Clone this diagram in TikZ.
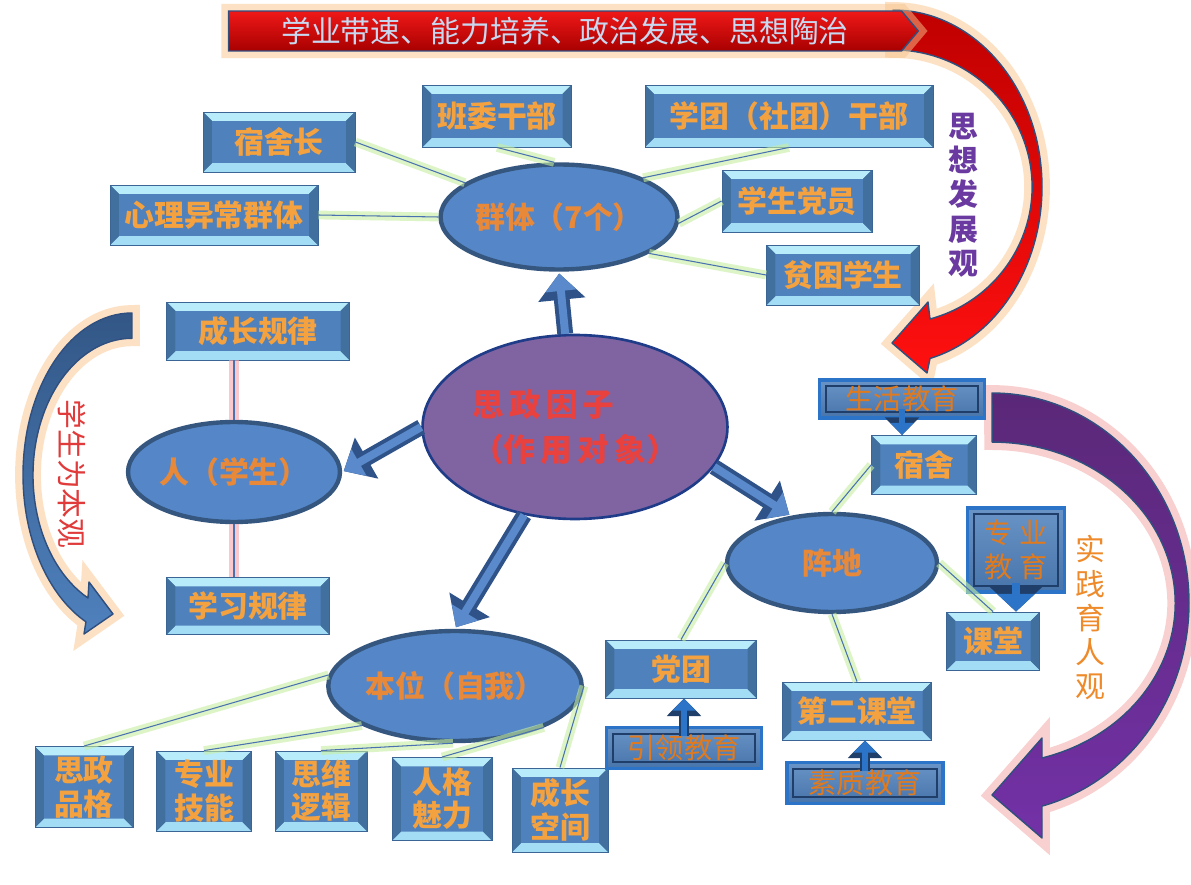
\documentclass[tikz,border=0pt]{standalone}
\usepackage{fontspec}
\setmainfont{Noto Sans CJK SC}
\usepackage{tikz}
\usetikzlibrary{shapes.geometric,shapes.symbols,arrows.meta}

\definecolor{boxblue}{HTML}{4F81BD}
\definecolor{boxedge}{HTML}{3A6595}
\definecolor{bevtop}{HTML}{B9ECFA}
\definecolor{bevbot}{HTML}{A3DDF5}
\definecolor{bevside}{HTML}{41709F}
\definecolor{textorange}{HTML}{F4A13F}
\definecolor{ellblue}{HTML}{5587C8}
\definecolor{ellrim}{HTML}{34567F}
\definecolor{ellorange}{HTML}{E8893A}
\definecolor{factorpurple}{HTML}{8064A2}
\definecolor{factoredge}{HTML}{1F3C88}
\definecolor{factorred}{HTML}{E8413E}
\definecolor{eduedge}{HTML}{2C74C8}
\definecolor{edudark}{HTML}{1F3F6A}
\definecolor{edutext}{HTML}{E07A1E}
\definecolor{lineblue}{HTML}{4A72B0}
\definecolor{glowgreen}{HTML}{C6EEA0}
\definecolor{glowpink}{HTML}{F6A6AE}
\definecolor{arrowfill}{HTML}{5A8ACB}
\definecolor{arrowedge}{HTML}{2F5388}
\definecolor{bannertop}{HTML}{F01818}
\definecolor{bannerbot}{HTML}{A80000}
\definecolor{bannertext}{HTML}{C8D8F0}
\definecolor{glowor}{HTML}{FAC58C}
\definecolor{glowrose}{HTML}{F4AAAA}
\definecolor{curveedge}{HTML}{2F4F7F}
\definecolor{redtop}{HTML}{C00000}
\definecolor{redbot}{HTML}{FF1010}
\definecolor{purpletop}{HTML}{5A2878}
\definecolor{purplebot}{HTML}{7331A6}
\definecolor{leftblue}{HTML}{3F6DA8}
\definecolor{viewpurple}{HTML}{6A3AA0}
\definecolor{viewred}{HTML}{E03A3A}
\definecolor{vieworange}{HTML}{EE8A2A}

\tikzset{
  bevelbox/.style={rectangle, draw=boxedge, line width=0.5pt, fill=boxblue, text=textorange,
    inner sep=0pt, align=center, font=\fontsize{17}{19}\selectfont\bfseries,
    path picture={
      \path (path picture bounding box.north west) coordinate (pnw)
            (path picture bounding box.north east) coordinate (pne)
            (path picture bounding box.south west) coordinate (psw)
            (path picture bounding box.south east) coordinate (pse);
      \fill[bevtop] (pnw) -- (pne) -- ([shift={(-5pt,-5pt)}]pne) -- ([shift={(5pt,-5pt)}]pnw) -- cycle;
      \fill[bevbot] (psw) -- (pse) -- ([shift={(-5pt,5pt)}]pse) -- ([shift={(5pt,5pt)}]psw) -- cycle;
      \fill[bevside] (pnw) -- ([shift={(5pt,-5pt)}]pnw) -- ([shift={(5pt,5pt)}]psw) -- (psw) -- cycle;
      \fill[bevside] (pne) -- ([shift={(-5pt,-5pt)}]pne) -- ([shift={(-5pt,5pt)}]pse) -- (pse) -- cycle;
    }},
  edubox/.style={rectangle, draw=eduedge, line width=2pt, top color=boxblue!85!white, bottom color=boxblue!90!black,
    text=edutext, inner sep=0pt, align=center, font=\fontsize{16}{19}\selectfont,
    path picture={
      \path (path picture bounding box.north west) coordinate (pnw)
            (path picture bounding box.south east) coordinate (pse);
      \draw[edudark, line width=1.2pt] ([shift={(3.5pt,-3.5pt)}]pnw) rectangle ([shift={(-3.5pt,3.5pt)}]pse);
    }},
  ellnode/.style={ellipse, draw=ellrim, line width=2.5pt, fill=ellblue, text=ellorange,
    inner sep=0pt, font=\fontsize{17}{20}\selectfont\bfseries},
  factor/.style={ellipse, draw=factoredge, line width=1.5pt, fill=factorpurple, text=factorred,
    inner sep=0pt, align=left, font=\fontsize{18}{26}\selectfont\bfseries},
  banner/.style={signal, signal to=east, signal pointer angle=100, draw=curveedge, line width=0.8pt,
    top color=bannertop, bottom color=bannerbot, minimum width=13.8cm, minimum height=0.8cm,
    inner sep=0pt, text=bannertext, font=\fontsize{17}{20}\selectfont,
    preaction={draw=glowor, line width=8pt, opacity=0.5}},
  curvearrow/.style={draw=curveedge, line width=0.8pt, line join=round},
  glowline/.style={draw=lineblue, line width=0.6pt, preaction={draw=glowgreen, line width=5pt, opacity=0.6}},
  pinkline/.style={draw=lineblue, line width=0.8pt, preaction={draw=glowpink, line width=6pt, opacity=0.6}},
  bigarrow/.style={draw=arrowedge, line width=9pt, -{Triangle[width=26pt,length=15pt]}, shorten >=1pt,
    postaction={draw=arrowfill, line width=4.5pt, -{Triangle[width=17pt,length=10pt]}}},
  eduarrow/.style={draw=edudark, line width=6pt, -{Triangle[width=19pt,length=10pt]}, shorten <=-6pt,
    postaction={draw=eduedge, line width=3pt, -{Triangle[width=13pt,length=7pt]}}},
  bigedu/.style={draw=edudark, line width=9pt, -{Triangle[width=29pt,length=14pt]}, shorten <=-6pt,
    postaction={draw=eduedge, line width=5pt, -{Triangle[width=21pt,length=10pt]}}},
  viewtext/.style={align=center, inner sep=0pt, font=\fontsize{17}{19.5}\selectfont}
}

\begin{document}
\begin{tikzpicture}[x=0.02cm,y=-0.02cm]
\useasboundingbox[fill=white] (0,0) rectangle (1191,885);

% the three big curved arrows
\draw[curvearrow, top color=redtop, bottom color=redbot, preaction={draw=glowor, line width=9pt, opacity=0.5}]
  (893,10) arc[start angle=-90, end angle=75.6, x radius=149, y radius=177]
  -- (927,373) -- (892,343) -- (928,302)
  -- (930,319) arc[start angle=74.6, end angle=-90, x radius=139, y radius=137] -- cycle;

\draw[curvearrow, top color=purpletop, bottom color=purplebot, preaction={draw=glowrose, line width=9pt, opacity=0.55}]
  (992,393) arc[start angle=-90, end angle=75.3, x radius=197, y radius=210]
  -- (1042,838) -- (992,795) -- (1042,738)
  -- (1042,758) arc[start angle=74.2, end angle=-90, x radius=183, y radius=161] -- cycle;

\draw[curvearrow, top color=leftblue!80!black, bottom color=boxblue, preaction={draw=glowor, line width=9pt, opacity=0.5}]
  (132,313) arc[start angle=-90, end angle=-245, x radius=109, y radius=162]
  -- (84,634) -- (113,614) -- (89,582)
  -- (88,598) arc[start angle=-243.6, end angle=-90, x radius=99, y radius=137] -- cycle;

\node[banner] (banner) at (565,31) {学业带速、能力培养、政治发展、思想陶治};

\node[viewtext, text=viewpurple, font=\fontsize{17}{19.5}\selectfont\bfseries] (sixiangguan) at (963,195) {思\\想\\发\\展\\观};
\node[viewtext, text=vieworange] (shijianguan) at (1090,618) {实\\践\\育\\人\\观};
\node[viewtext, text=viewred, rotate=-90] (benguan) at (72,474) {学生为本观};

% group
\node[ellnode, minimum width=4.44cm, minimum height=2.1cm] (qunti) at (559,217) {群体（7个）};
\node[bevelbox, minimum width=3.04cm, minimum height=1.2cm] (sushezhang) at (279,142) {宿舍长};
\node[bevelbox, minimum width=2.98cm, minimum height=1.24cm] (banwei) at (497,116) {班委干部};
\node[bevelbox, minimum width=5.76cm, minimum height=1.24cm] (xuetuan) at (789,116) {学团（社团）干部};
\node[bevelbox, minimum width=4.16cm, minimum height=1.2cm] (xinli) at (214,215) {心理异常群体};
\node[bevelbox, minimum width=3cm, minimum height=1.24cm] (dangyuan) at (797,201) {学生党员};
\node[bevelbox, minimum width=3.06cm, minimum height=1.2cm] (pinkun) at (843,275) {贫困学生};

\node[factor, minimum width=6.1cm, minimum height=3.68cm] (yinzi) at (575,427) {思\hspace{3pt}政\hspace{3pt}因\hspace{3pt}子\\（作\hspace{3pt}用\hspace{3pt}对\hspace{3pt}象）};

% student
\node[ellnode, minimum width=4.24cm, minimum height=2cm] (ren) at (234,472) {人（学生）};
\node[bevelbox, minimum width=3.66cm, minimum height=1.16cm] (chengzhang) at (258,331) {成长规律};
\node[bevelbox, minimum width=3.26cm, minimum height=1.14cm] (xuexi) at (248,606) {学习规律};

% self
\node[ellnode, minimum width=5cm, minimum height=2.2cm] (benwei) at (455,686) {本位（自我）};
\node[bevelbox, minimum width=1.96cm, minimum height=1.62cm] (pinge) at (84,787) {思政\\品格};
\node[bevelbox, minimum width=1.9cm, minimum height=1.6cm] (jineng) at (204,791) {专业\\技能};
\node[bevelbox, minimum width=1.84cm, minimum height=1.6cm] (luoji) at (321,791) {思维\\逻辑};
\node[bevelbox, minimum width=2cm, minimum height=1.66cm] (meili) at (442,799) {人格\\魅力};
\node[bevelbox, minimum width=1.92cm, minimum height=1.68cm] (kongjian) at (560,810) {成长\\空间};

% position
\node[ellnode, minimum width=4.2cm, minimum height=1.96cm] (zhendi) at (832,563) {阵地};
\node[edubox, minimum width=3.3cm, minimum height=0.76cm] (shenghuo) at (902,399) {生活教育};
\node[bevelbox, minimum width=2.1cm, minimum height=1.18cm] (sushe) at (924,465) {宿舍};
\node[edubox, minimum width=1.94cm, minimum height=1.68cm] (zhuanye) at (1016,550) {专\hspace{4pt}业\\教\hspace{4pt}育};
\node[bevelbox, minimum width=1.86cm, minimum height=1.16cm] (ketang) at (993,641) {课堂};
\node[bevelbox, minimum width=3.02cm, minimum height=1.16cm] (dangtuan) at (681,669) {党团};
\node[edubox, minimum width=3.1cm, minimum height=0.82cm] (yinling) at (684,748) {引领教育};
\node[bevelbox, minimum width=2.98cm, minimum height=1.16cm] (dierketang) at (857,711) {第二课堂};
\node[edubox, minimum width=3.12cm, minimum height=0.82cm] (suzhi) at (865,783) {素质教育};

% links
\draw[glowline] (sushezhang.east) -- (qunti.160);
\draw[glowline] (banwei.south) -- (qunti.95);
\draw[glowline] (xuetuan.south) -- (qunti.25);
\draw[glowline] (xinli.east) -- (qunti.west);
\draw[glowline] (dangyuan.west) -- (qunti.-3);
\draw[glowline] (pinkun.west) -- (qunti.-22);

\draw[pinkline] (chengzhang.south -| ren.north) -- (ren.north);
\draw[pinkline] (ren.south) -- (ren.south |- xuexi.north);

\draw[glowline] (benwei.175) -- (pinge.north);
\draw[glowline] (benwei.203) -- (jineng.north);
\draw[glowline] (benwei.268) -- (luoji.north);
\draw[glowline] (benwei.-25) -- (meili.north);
\draw[glowline] (benwei.east) -- (kongjian.north);

\draw[glowline] (zhendi.north) -- (sushe.west);
\draw[glowline] (zhendi.west) -- (dangtuan.north);
\draw[glowline] (zhendi.south) -- (dierketang.north);
\draw[glowline] (zhendi.east) -- (ketang.north);

\draw[bigarrow] (yinzi.96) -- (qunti.south);
\draw[bigarrow] (yinzi.west) -- (ren.east);
\draw[bigarrow] (yinzi.240) -- (benwei.north);
\draw[bigarrow] (yinzi.-16) -- (zhendi.131);

\draw[eduarrow] (shenghuo.south) -- (shenghuo.south |- sushe.north);
\draw[eduarrow] (yinling.north) -- (yinling.north |- dangtuan.south);
\draw[eduarrow] (suzhi.north) -- (suzhi.north |- dierketang.south);
\draw[bigedu] (zhuanye.south) -- (zhuanye.south |- ketang.north);

\end{tikzpicture}
\end{document}
